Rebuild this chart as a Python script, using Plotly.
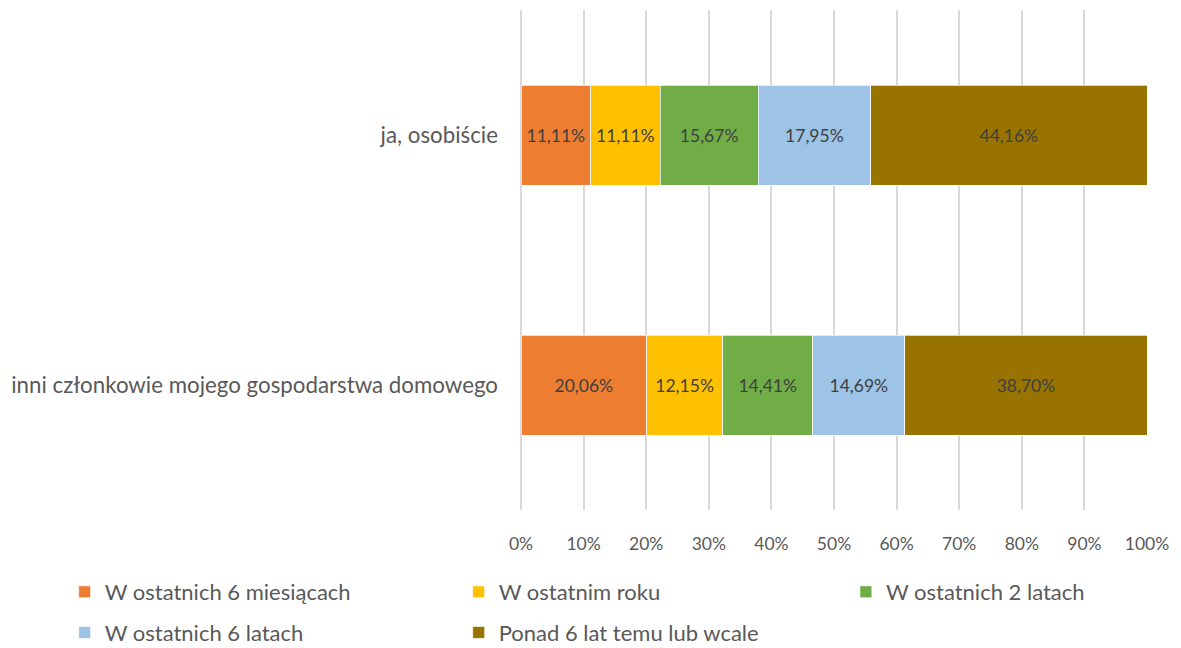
import plotly.graph_objects as go

categories = ["inni członkowie mojego gospodarstwa domowego", "ja, osobiście"]
series_names = ["W ostatnich 6 miesiącach", "W ostatnim roku", "W ostatnich 2 latach",
                "W ostatnich 6 latach", "Ponad 6 lat temu lub wcale"]
values = {
    "W ostatnich 6 miesiącach": [20.06, 11.11],
    "W ostatnim roku": [12.15, 11.11],
    "W ostatnich 2 latach": [14.41, 15.67],
    "W ostatnich 6 latach": [14.69, 17.95],
    "Ponad 6 lat temu lub wcale": [38.70, 44.16],
}
colors = ["#ED7D31", "#FFC000", "#70AD47", "#9DC3E6", "#997300"]
legend_ids = ["legend", "legend2", "legend3", "legend", "legend2"]
tick_vals = list(range(0, 101, 10))
tick_text = [f"{v}%" for v in tick_vals]

FONT = "Lato"
fig = go.Figure()
for i, (name, col) in enumerate(zip(series_names, colors)):
    vals = values[name]
    fig.add_trace(go.Bar(
        y=categories, x=vals, name=name, orientation="h",
        marker=dict(color=col, line=dict(color="white", width=0.7)),
        text=[f"{v:.2f}%".replace(".", ",") for v in vals],
        textposition="inside", insidetextanchor="middle", textangle=0,
        textfont=dict(color="#404040", size=17.5, family=FONT),
        constraintext="none",
        legend=legend_ids[i], legendgroup=name,
        hoverinfo="skip",
    ))

leg_common = dict(orientation="v", yref="container", y=0.1203, yanchor="top",
                  xanchor="left",
                  font=dict(size=22, color="#595959", family=FONT),
                  tracegroupgap=9, itemwidth=30, bgcolor="rgba(0,0,0,0)")

fig.update_layout(
    barmode="stack", bargap=0.6,
    width=1173, height=640,
    margin=dict(l=513, r=34, t=2, b=138),
    paper_bgcolor="white", plot_bgcolor="white",
    font=dict(family=FONT, color="#595959", size=17),
    xaxis=dict(range=[0, 100], tickvals=tick_vals, ticktext=tick_text,
               showgrid=True, gridcolor="#D9D9D9", gridwidth=1.5,
               zeroline=True, zerolinecolor="#D9D9D9", zerolinewidth=1.5,
               showline=False, ticks="",
               ticklabelstandoff=21,
               tickfont=dict(size=17.5, color="#595959", family=FONT)),
    yaxis=dict(showgrid=False, zeroline=False, showline=False, ticks="",
               ticklabelstandoff=22,
               tickfont=dict(size=22.3, color="#595959", family=FONT)),
    legend=dict(x=-0.729, **leg_common),
    legend2=dict(x=-0.0995, **leg_common),
    legend3=dict(x=0.519, **leg_common),
    showlegend=True,
)
fig.write_html("out.html")
